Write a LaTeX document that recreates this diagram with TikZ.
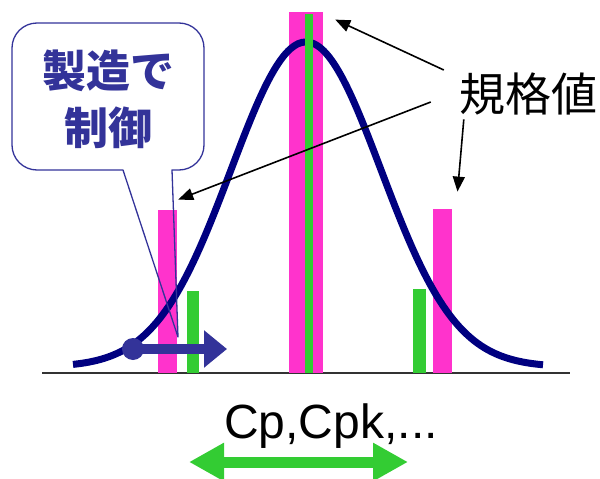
\documentclass[tikz,border=0pt]{standalone}
\usepackage{fontspec}
\setmainfont{Liberation Sans}
\newfontfamily\jpfont{Noto Sans CJK JP}
\usetikzlibrary{arrows.meta,calc}
\definecolor{cSpec}{RGB}{255, 51,204}
\definecolor{cCtl} {RGB}{ 51,204, 51}
\definecolor{cBell}{RGB}{  0,  0,128}
\definecolor{cNote}{RGB}{ 51, 51,153}
\tikzset{
  specbar/.style  = {fill=cSpec, inner sep=0pt, minimum width=19pt, anchor=south},
  ctlbar/.style   = {fill=cCtl, inner sep=0pt, minimum width=12pt, anchor=south},
  bell/.style     = {cBell, line width=7pt},
  axisl/.style    = {black!80, line width=1.5pt},
  calloutl/.style = {draw=cNote, line width=1.3pt, line join=round},
  notetxt/.style  = {font=\jpfont\bfseries\fontsize{44}{57}\selectfont,
                     text=cNote, align=center, inner sep=0pt},
  spectxt/.style  = {font=\jpfont\fontsize{46}{50}\selectfont, inner sep=0pt},
  captxt/.style   = {font=\fontsize{48}{50}\selectfont, inner sep=0pt},
  specarr/.style  = {-{Triangle[length=15pt,width=12pt]}, line width=1.6pt},
  shiftarr/.style = {-{Triangle[length=23pt,width=36pt]}, cNote, line width=10pt},
  caparr/.style   = {{Triangle[length=35pt,width=36pt]}-{Triangle[length=35pt,width=36pt]},
                     cCtl, line width=11pt},
}

\begin{document}
\begin{tikzpicture}[x=1pt, y=-1pt]
  \useasboundingbox (0,0) rectangle (600,479);

  % ---- axis and spec limits -----------------------------------------
  \draw[axisl] (42,373) -- (570,373);
  \node[specbar, minimum height=163pt] (specL) at (167.5,373) {};
  \node[specbar, minimum height=361pt, minimum width=34pt] (specC) at (306,373) {};
  \node[specbar, minimum height=164pt] (specR) at (442.5,373) {};

  % ---- distribution -------------------------------------------------
  \draw[bell] plot[domain=73:543, samples=120, smooth]
    (\x, {367-325*exp(-((\x-306)/75)^2/2)});

  % ---- control limits -----------------------------------------------
  \node[ctlbar, minimum height=82pt] (ctlL) at (193,373) {};
  \node[ctlbar, minimum height=359pt, minimum width=8pt] (ctlC) at (309,373) {};
  \node[ctlbar, minimum height=84pt, minimum width=13pt] (ctlR) at (419.5,373) {};

  % ---- shift of the mean --------------------------------------------
  \node[circle, fill=cNote, minimum size=22pt, inner sep=0pt] (dot) at (133,349) {};
  \coordinate (shiftend) at (227,349);
  \draw[shiftarr] (dot.center) -- (shiftend);

  % ---- callout ------------------------------------------------------
  \draw[calloutl] (123,170) -- (178,337) -- (172,170) [rounded corners=25pt]
    -- (204,170) -- (204,23) -- (12,23) -- (12,170) [sharp corners] -- cycle;
  \node[notetxt] (ctrl) at (108,99) {製造で\\制御};

  % ---- spec label ---------------------------------------------------
  \node[spectxt] (spec) at (528,94) {規格値};
  \coordinate (sa1) at ($(spec.west)+(-15,-24)$);
  \coordinate (sa2) at ($(spec.west)+(-28,8)$);
  \coordinate (sa3) at ($(spec.south west)+(5,4)$);
  \draw[specarr] (sa1) -- ($(specC.north east)+(12,8)$);
  \draw[specarr] (sa2) -- ($(specL.north east)+(1,-10)$);
  \draw[specarr] (sa3) -- ($(specR.north)+(15,-17)$);

  % ---- capability ---------------------------------------------------
  \node[captxt, anchor=base] (cpk) at (331,438) {Cp,Cpk,...};
  \coordinate (capL) at (189,462);
  \coordinate (capR) at (408,462);
  \draw[caparr] (capL) -- (capR);

\end{tikzpicture}
\end{document}
